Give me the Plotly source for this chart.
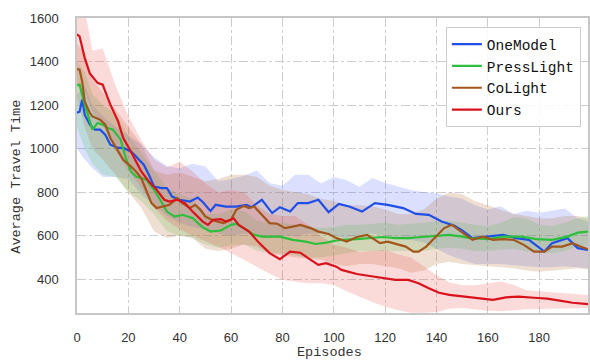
import plotly.graph_objects as go

# ---------------- data ----------------
onemodel_x = [0, 1, 2, 3, 5, 7, 9, 11, 13, 16, 18, 21, 23, 26, 28, 30, 33, 35, 37, 40, 44, 47, 49, 52, 54, 58, 62, 66, 68, 72, 76, 79, 83, 86, 90, 94, 98, 102, 106, 111, 116, 121, 127, 132, 137, 142, 147, 150, 154, 160, 166, 171, 176, 182, 185, 191, 195, 199]
onemodel_y = [1165, 1170, 1225, 1156, 1110, 1087, 1087, 1064, 1018, 1003, 1003, 987, 964, 926, 880, 826, 819, 819, 780, 765, 757, 775, 755, 713, 742, 734, 734, 742, 731, 765, 704, 731, 711, 750, 750, 765, 708, 746, 734, 711, 750, 742, 727, 700, 696, 665, 646, 624, 589, 596, 604, 589, 581, 527, 566, 589, 543, 535]

presslight_x = [0, 1, 3, 5, 6, 8, 10, 12, 14, 17, 19, 21, 23, 27, 30, 32, 35, 38, 41, 45, 49, 52, 56, 60, 62, 65, 69, 72, 79, 84, 89, 93, 97, 101, 103, 109, 114, 119, 124, 129, 134, 140, 145, 150, 153, 160, 166, 173, 179, 185, 191, 195, 199]
presslight_y = [1290, 1294, 1202, 1125, 1087, 1118, 1110, 1095, 1087, 1041, 957, 895, 872, 857, 811, 773, 711, 688, 696, 681, 638, 619, 624, 650, 655, 635, 604, 596, 596, 581, 573, 562, 568, 578, 581, 584, 589, 594, 589, 589, 594, 599, 604, 596, 589, 584, 596, 596, 584, 581, 596, 614, 619]

colight_x = [0, 1, 2, 3, 5, 6, 9, 11, 13, 16, 18, 21, 23, 25, 27, 29, 31, 34, 36, 39, 41, 44, 46, 48, 50, 53, 57, 60, 62, 65, 67, 69, 72, 75, 78, 81, 84, 87, 91, 94, 98, 101, 105, 109, 113, 115, 118, 121, 124, 128, 131, 133, 136, 140, 143, 146, 150, 154, 158, 162, 166, 170, 174, 178, 182, 185, 189, 193, 196, 199]
colight_y = [1365, 1363, 1309, 1217, 1164, 1148, 1133, 1110, 1049, 987, 949, 918, 895, 865, 803, 750, 727, 735, 742, 773, 750, 727, 742, 720, 688, 670, 658, 673, 719, 737, 727, 734, 696, 658, 655, 635, 642, 650, 635, 619, 608, 589, 573, 594, 604, 589, 566, 573, 562, 550, 527, 527, 550, 596, 635, 650, 615, 581, 596, 581, 584, 581, 558, 527, 527, 550, 550, 566, 550, 538]

ours_x = [0, 1, 3, 5, 8, 10, 11, 13, 16, 18, 21, 23, 25, 28, 31, 34, 36, 39, 42, 45, 49, 51, 53, 56, 58, 61, 63, 67, 71, 75, 79, 83, 87, 90, 94, 97, 101, 103, 109, 114, 119, 124, 129, 133, 137, 141, 145, 150, 157, 162, 167, 172, 178, 183, 188, 193, 199]
ours_y = [1525, 1516, 1417, 1345, 1302, 1294, 1263, 1202, 1125, 1049, 987, 941, 895, 849, 811, 765, 757, 765, 750, 711, 665, 650, 673, 676, 665, 680, 650, 619, 566, 520, 492, 527, 522, 497, 466, 474, 458, 443, 424, 415, 405, 397, 397, 382, 359, 338, 328, 321, 313, 305, 317, 320, 315, 311, 302, 292, 286]

# shaded bands (lower / upper bounds)
band_x = [0, 3, 6, 10, 15, 20, 25, 30, 35, 40, 45, 50, 55, 60, 65, 70, 75, 80, 85, 90, 95, 100,
          105, 110, 115, 120, 125, 130, 135, 140, 145, 150, 155, 160, 165, 170, 175, 180, 185, 190, 195, 199]

onemodel_hi = [1250, 1290, 1200, 1150, 1100, 1060, 1020, 960, 920, 910, 930, 918, 850, 860, 875, 900, 842, 830, 880, 880, 840, 870,
               855, 825, 865, 842, 825, 810, 800, 795, 780, 770, 740, 720, 735, 700, 715, 705, 715, 725, 680, 665]
onemodel_lo = [1000, 950, 910, 870, 870, 860, 790, 740, 690, 660, 640, 630, 610, 600, 610, 600, 590, 600, 600, 610, 610, 600,
               590, 600, 610, 600, 590, 580, 570, 540, 510, 490, 470, 470, 470, 465, 460, 455, 455, 460, 455, 450]

presslight_hi = [1400, 1350, 1250, 1200, 1160, 1060, 980, 900, 820, 790, 770, 700, 700, 720, 715, 670, 660, 660, 650, 640, 635, 640,
                 650, 650, 655, 660, 650, 655, 660, 665, 670, 660, 650, 645, 660, 685, 680, 650, 645, 660, 680, 690]
presslight_lo = [1100, 1000, 930, 880, 870, 800, 760, 700, 620, 600, 590, 560, 545, 555, 560, 530, 520, 520, 510, 500, 500, 510,
                 520, 530, 530, 530, 530, 530, 530, 540, 545, 540, 530, 530, 535, 540, 530, 525, 520, 530, 550, 555]

colight_hi = [1480, 1440, 1320, 1260, 1180, 1100, 1020, 900, 880, 890, 870, 850, 860, 880, 880, 870, 830, 810, 800, 790, 770, 760,
              740, 740, 735, 720, 700, 700, 720, 770, 800, 790, 760, 740, 720, 700, 690, 680, 680, 690, 690, 680]
colight_lo = [1230, 1100, 1000, 950, 880, 800, 730, 620, 590, 600, 590, 540, 530, 540, 560, 550, 520, 510, 500, 495, 490, 470,
              460, 470, 470, 460, 450, 430, 440, 470, 480, 470, 465, 460, 455, 450, 440, 435, 440, 445, 450, 445]

ours_hi = [1700, 1640, 1450, 1460, 1290, 1150, 1040, 950, 915, 940, 895, 840, 800, 810, 800, 740, 700, 690, 690, 650, 600, 560,
           545, 525, 530, 535, 515, 500, 460, 420, 385, 372, 372, 380, 390, 375, 350, 345, 340, 335, 330, 328]
ours_lo = [1300, 1260, 1170, 1110, 990, 900, 820, 730, 670, 630, 600, 575, 550, 520, 490, 458, 425, 397, 390, 382, 382, 374,
           345, 320, 295, 274, 258, 246, 246, 250, 265, 268, 262, 255, 253, 258, 262, 265, 264, 266, 267, 268]

x_ticks = [0, 20, 40, 60, 80, 100, 120, 140, 160, 180]
y_ticks = [400, 600, 800, 1000, 1200, 1400, 1600]

# ---------------- styles ----------------
series = [
    ("OneModel", onemodel_x, onemodel_y, onemodel_lo, onemodel_hi, "#1f4fe6", "rgba(70,100,245,0.20)"),
    ("PressLight", presslight_x, presslight_y, presslight_lo, presslight_hi, "#2cbf3c", "rgba(60,200,80,0.20)"),
    ("CoLight", colight_x, colight_y, colight_lo, colight_hi, "#a3561c", "rgba(180,110,50,0.22)"),
    ("Ours", ours_x, ours_y, ours_lo, ours_hi, "#d9121c", "rgba(235,70,70,0.20)"),
]

fig = go.Figure()

for name, xs, ys, lo, hi, col, fcol in series:
    fig.add_trace(go.Scatter(
        x=band_x + band_x[::-1], y=hi + lo[::-1],
        fill="toself", fillcolor=fcol, line=dict(width=0),
        mode="lines", hoverinfo="skip", showlegend=False))

for name, xs, ys, lo, hi, col, fcol in series:
    fig.add_trace(go.Scatter(
        x=xs, y=ys, mode="lines", name=name,
        line=dict(color=col, width=2.2)))

mono = "Liberation Mono"
grid_col = "#cdcdcd"
axis_col = "#c6c6c6"

fig.update_layout(
    width=590, height=360,
    margin=dict(l=77, r=0, t=18, b=47),
    paper_bgcolor="white", plot_bgcolor="white",
    font=dict(family="Liberation Sans", size=13, color="#333333"),
    showlegend=True,
    legend=dict(
        x=0.986, y=0.969, xanchor="right", yanchor="top",
        bgcolor="rgba(255,255,255,0.85)", bordercolor="#cccccc", borderwidth=1,
        font=dict(family=mono, size=14.5, color="#111111"),
        tracegroupgap=0,
    ),
    xaxis=dict(
        range=[0, 199], tickvals=x_ticks, ticktext=[str(v) for v in x_ticks],
        showgrid=True, gridcolor=grid_col, gridwidth=1, griddash="dashdot",
        showline=True, linecolor=axis_col, linewidth=1.5, mirror=True,
        ticks="", zeroline=False, ticklabelstandoff=12,
        tickfont=dict(family="Liberation Sans", size=13, color="#333333"),
    ),
    yaxis=dict(
        range=[245, 1600], tickvals=y_ticks, ticktext=[str(v) for v in y_ticks],
        showgrid=True, gridcolor=grid_col, gridwidth=1, griddash="dashdot",
        showline=True, linecolor=axis_col, linewidth=1.5, mirror=True,
        ticks="", zeroline=False, ticklabelstandoff=14,
        tickfont=dict(family="Liberation Sans", size=13, color="#333333"),
    ),
    annotations=[
        dict(text="Average Travel Time", xref="paper", yref="paper",
             x=-0.12, y=0.461, xanchor="center", yanchor="middle", textangle=-90,
             showarrow=False, font=dict(family=mono, size=13.5, color="#333333")),
        dict(text="Episodes", xref="paper", yref="paper",
             x=0.494, y=-0.1, xanchor="center", yanchor="top",
             showarrow=False, font=dict(family=mono, size=13.5, color="#333333")),
    ],
)

fig.write_html("out.html")
